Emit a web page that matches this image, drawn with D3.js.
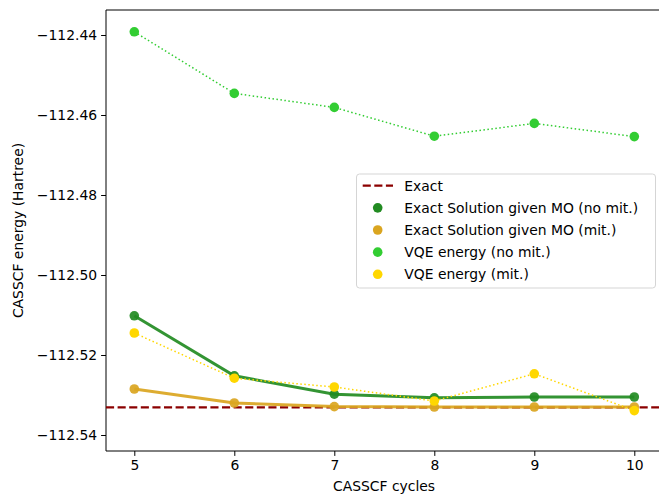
<!DOCTYPE html>
<html>
<head>
<meta charset="utf-8">
<script src="https://cdn.jsdelivr.net/npm/d3@7"></script>
<style>
  body { margin: 0; background: #fff; }
  svg { display: block; font-family: "DejaVu Sans", sans-serif; }
</style>
</head>
<body>
<div id="chart"></div>
<script>
// data
const cycles = [5, 6, 7, 8, 9, 10];
const exactEnergy = -112.5331;
const exactNoMit = [-112.5102, -112.5252, -112.5298, -112.5307, -112.5305, -112.5305];
const exactMit = [-112.5285, -112.5320, -112.5329, -112.5330, -112.5330, -112.5330];
const vqeNoMit = [-112.4392, -112.4546, -112.4581, -112.4653, -112.4621, -112.4654];
const vqeMit = [-112.5145, -112.5258, -112.5280, -112.5315, -112.5247, -112.5339];
const yTicks = [-112.44, -112.46, -112.48, -112.50, -112.52, -112.54];
const legendLabels = ["Exact", "Exact Solution given MO (no mit.)", "Exact Solution given MO (mit.)",
    "VQE energy (no mit.)", "VQE energy (mit.)"];

function chart() {
    const width = 659;
    const height = 494;
    const left = 106, top = 10, bottom = 451;

    // x scale: 5 -> 134.3, 100px per cycle; right spine falls outside the crop
    const x = d3.scaleLinear().domain([4.717, 10.283]).range([left, 662.6]);
    const y = d3.scaleLinear().domain([-112.544, -112.43375]).range([bottom, top]);

    const svg = d3.create("svg")
        .attr("width", width)
        .attr("height", height)
        .attr("viewBox", [0, 0, width, height]);

    const fmt = d => d3.format(".2f")(d).replace("-", "\u2212");

    // axes
    svg.append("g")
        .attr("transform", `translate(0,${bottom})`)
        .call(d3.axisBottom(x).tickValues(cycles).tickSize(4.9).tickPadding(4).tickFormat(d3.format("d")))
        .call(g => g.select(".domain").remove())
        .call(g => g.selectAll("text").attr("font-size", 13.9).attr("fill", "#000").attr("font-family", "DejaVu Sans"));

    svg.append("g")
        .attr("transform", `translate(${left},0)`)
        .call(d3.axisLeft(y).tickValues(yTicks).tickSize(4.9).tickPadding(4).tickFormat(fmt))
        .call(g => g.select(".domain").remove())
        .call(g => g.selectAll("text").attr("font-size", 13.9).attr("fill", "#000").attr("font-family", "DejaVu Sans"));

    // spines (left, top, bottom)
    svg.append("path")
        .attr("d", `M${left},${bottom}V${top}H${width + 5}M${left},${bottom}H${width + 5}`)
        .attr("fill", "none")
        .attr("stroke", "#000")
        .attr("stroke-width", 1);

    const line = d3.line().x((d, i) => x(cycles[i])).y(d => y(d));

    // exact reference
    svg.append("line")
        .attr("x1", left).attr("x2", width + 5)
        .attr("y1", y(exactEnergy)).attr("y2", y(exactEnergy))
        .attr("stroke", "#8b0000")
        .attr("stroke-width", 2.2)
        .attr("stroke-dasharray", "8.1,3.5");

    const series = [
        {values: exactNoMit, color: "#228b22", width: 3, dash: null, op: 0.92},
        {values: exactMit, color: "#daa520", width: 3, dash: null, op: 0.92},
        {values: vqeNoMit, color: "#32cd32", width: 1.5, dash: "1.5,2.5", op: 1},
        {values: vqeMit, color: "#ffd700", width: 1.5, dash: "1.5,2.5", op: 1}
    ];

    series.forEach(s => {
        svg.append("path")
            .datum(s.values)
            .attr("d", line)
            .attr("fill", "none")
            .attr("stroke", s.color)
            .attr("stroke-width", s.width)
            .attr("stroke-dasharray", s.dash)
            .attr("opacity", s.op);
        svg.append("g")
            .selectAll("circle")
            .data(s.values)
            .join("circle")
            .attr("cx", (d, i) => x(cycles[i]))
            .attr("cy", d => y(d))
            .attr("r", 4.8)
            .attr("fill", s.color)
            .attr("opacity", s.op);
    });

    // legend
    const lg = svg.append("g");
    lg.append("rect")
        .attr("x", 356.5).attr("y", 174)
        .attr("width", 299).attr("height", 114)
        .attr("rx", 3)
        .attr("fill", "#fff").attr("fill-opacity", 0.8)
        .attr("stroke", "#d5d5d5").attr("stroke-width", 1);
    const colors = [null, "#228b22", "#daa520", "#32cd32", "#ffd700"];
    legendLabels.forEach((label, i) => {
        const cy = 185.7 + i * 22.15;
        if (i === 0) {
            lg.append("line")
                .attr("x1", 362.7).attr("x2", 393)
                .attr("y1", cy).attr("y2", cy)
                .attr("stroke", "#8b0000").attr("stroke-width", 2.2)
                .attr("stroke-dasharray", "8.1,3.5");
        } else {
            lg.append("circle")
                .attr("cx", 377.7).attr("cy", cy).attr("r", 4.8)
                .attr("fill", colors[i]);
        }
        lg.append("text")
            .attr("x", 404.3).attr("y", cy + 5)
            .attr("font-size", 13.9)
            .text(label);
    });

    // axis titles
    svg.append("text")
        .attr("x", 384).attr("y", 491)
        .attr("text-anchor", "middle")
        .attr("font-size", 13.9)
        .text("CASSCF cycles");
    svg.append("text")
        .attr("transform", `translate(23,${(top + bottom) / 2}) rotate(-90)`)
        .attr("text-anchor", "middle")
        .attr("font-size", 13.9)
        .text("CASSCF energy (Hartree)");

    return svg.node();
}

document.getElementById("chart").appendChild(chart());
</script>
</body>
</html>
